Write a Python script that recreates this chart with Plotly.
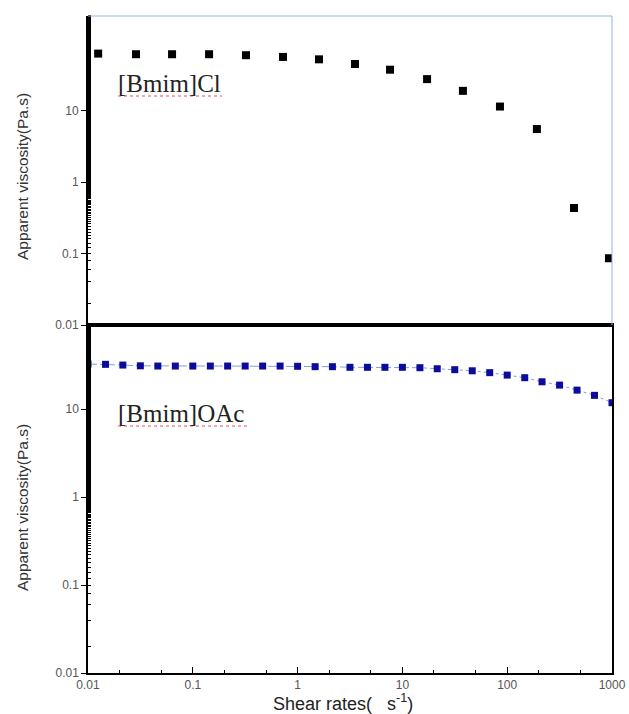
import plotly.graph_objects as go

# ---- data ----
cl_shear = [0.0125, 0.0287, 0.0634, 0.143, 0.322, 0.726, 1.60, 3.53, 7.62, 17.2, 37.8, 85.3, 192, 434, 935]
cl_visc = [62.8, 61.5, 61.5, 61.5, 59.6, 56.4, 52.2, 44.9, 37.4, 27.6, 18.9, 11.4, 5.52, 0.434, 0.0859]

oac_shear = [0.01, 0.0147, 0.0215, 0.0316, 0.0464, 0.0681, 0.1, 0.147, 0.215, 0.316, 0.464, 0.681,
             1, 1.47, 2.15, 3.16, 4.64, 6.81, 10, 14.7, 21.5, 31.6, 46.4, 68.1,
             100, 147, 215, 316, 464, 681, 1000]
oac_visc = [32.5, 32.2, 31.6, 31.0, 30.8, 30.8, 30.8, 30.8, 30.8, 30.8, 30.8, 30.8,
            30.6, 30.3, 30.3, 29.8, 29.8, 29.8, 29.8, 29.5, 28.7, 28.0, 27.2, 25.9,
            24.3, 22.7, 20.4, 18.7, 16.4, 14.3, 11.8]

x_tickvals = [0.01, 0.1, 1, 10, 100, 1000]
x_ticktext = ["0.01", "0.1", "1", "10", "100", "1000"]
y_tickvals = [0.01, 0.1, 1, 10]
y_ticktext = ["0.01", "0.1", "1", "10"]

W, H = 629, 714
PL, PR, PT, PB = 88, 612, 16, 673      # plot area in window pixels
L, T = PL, PT
R = W - PR
B = H - PB
plot_h = PB - PT
pw = PR - PL
split = (PB - 325) / plot_h

def px(xw):
    return (xw - PL) / pw

def py(yw):
    return (PB - yw) / plot_h

fig = go.Figure()
fig.add_trace(go.Scatter(x=cl_shear, y=cl_visc, mode="markers", xaxis="x2", yaxis="y2",
                         marker=dict(symbol="square", size=8, color="black"), showlegend=False))
fig.add_trace(go.Scatter(x=oac_shear, y=oac_visc, mode="lines+markers", xaxis="x", yaxis="y",
                         line=dict(color="#7f9fdf", width=1, dash="dashdot"),
                         marker=dict(symbol="square", size=7, color="#0c0c9c"), showlegend=False))

tickfont = dict(family="Liberation Sans, Arial", size=12, color="#555555")

fig.update_layout(
    width=W, height=H, margin=dict(l=L, r=R, t=T, b=B, autoexpand=False),
    paper_bgcolor="white", plot_bgcolor="white",
    xaxis=dict(domain=[0, 1], anchor="y", type="log", range=[-2, 3], automargin=False,
               tickvals=x_tickvals, ticktext=x_ticktext, ticks="inside", ticklen=6,
               tickcolor="black", tickfont=tickfont, showgrid=False, zeroline=False,
               showline=True, linecolor="black", linewidth=1.5, mirror=True,
               minor=dict(ticks="inside", ticklen=3, tickcolor="black", showgrid=False)),
    yaxis=dict(domain=[0, split], anchor="x", type="log", range=[-2, 1.955], automargin=False,
               tickvals=y_tickvals, ticktext=y_ticktext, ticks="outside", ticklen=5,
               tickcolor="black", tickfont=tickfont, showgrid=False, zeroline=False,
               showline=True, linecolor="black", linewidth=1.5, mirror=True,
               minor=dict(ticks="inside", ticklen=3, tickcolor="black", showgrid=False)),
    xaxis2=dict(domain=[0, 1], anchor="y2", type="log", range=[-2, 3], showticklabels=False,
                automargin=False, ticks="", showgrid=False, zeroline=False,
                showline=True, linecolor="black", linewidth=1.5),
    yaxis2=dict(domain=[split, 1], anchor="x2", type="log", range=[-2, 2.324], automargin=False,
                tickvals=y_tickvals, ticktext=y_ticktext, ticks="outside", ticklen=5,
                tickcolor="black", tickfont=tickfont, showgrid=False, zeroline=False,
                showline=True, linecolor="black", linewidth=2,
                minor=dict(ticks="inside", ticklen=3, tickcolor="black", showgrid=False)),
)

# light-blue top and right border of the upper panel
fig.add_shape(type="line", xref="x2 domain", yref="y2 domain", x0=0, x1=1, y0=1, y1=1,
              line=dict(color="#8fb3e6", width=1))
fig.add_shape(type="line", xref="x2 domain", yref="y2 domain", x0=1, x1=1, y0=0, y1=1,
              line=dict(color="#8fb3e6", width=1))

title_font = dict(family="Liberation Sans, Arial", size=15.5, color="#333333")
fig.add_annotation(text="Apparent viscosity(Pa.s)", textangle=-90, xref="paper", yref="paper",
                   x=0, xshift=22 - PL, y=py(177), showarrow=False, font=title_font,
                   xanchor="center", yanchor="middle")
fig.add_annotation(text="Apparent viscosity(Pa.s)", textangle=-90, xref="paper", yref="paper",
                   x=0, xshift=22 - PL, y=py(508), showarrow=False, font=title_font,
                   xanchor="center", yanchor="middle")
fig.add_annotation(text="Shear rates(   s<sup>-1</sup>)", xref="paper", yref="paper",
                   x=px(343), y=py(703), showarrow=False,
                   font=dict(family="Liberation Sans, Arial", size=18, color="#222222"),
                   xanchor="center", yanchor="middle")

label_font = dict(family="Liberation Serif, Times New Roman", size=25, color="#222222")
fig.add_annotation(text="[Bmim]Cl", xref="paper", yref="paper", x=px(116),
                   y=py(83), showarrow=False, font=label_font,
                   xanchor="left", yanchor="middle")
fig.add_annotation(text="[Bmim]OAc", xref="paper", yref="paper", x=px(116),
                   y=py(413), showarrow=False, font=label_font,
                   xanchor="left", yanchor="middle")
# red spell-check squiggles under the labels
fig.add_shape(type="line", xref="paper", yref="paper", x0=px(118), x1=px(222),
              y0=py(96), y1=py(96), line=dict(color="#e05050", width=1, dash="dot"))
fig.add_shape(type="line", xref="paper", yref="paper", x0=px(118), x1=px(247),
              y0=py(426), y1=py(426), line=dict(color="#e05050", width=1, dash="dot"))

# remove the default page margin and scrollbars so the figure fills the window exactly
fig.write_html(
    "out.html",
    config={"displayModeBar": False},
    post_script=(
        "document.documentElement.style.overflow='hidden';"
        "document.body.style.overflow='hidden';"
        "document.body.style.margin='0';"
    ),
)
